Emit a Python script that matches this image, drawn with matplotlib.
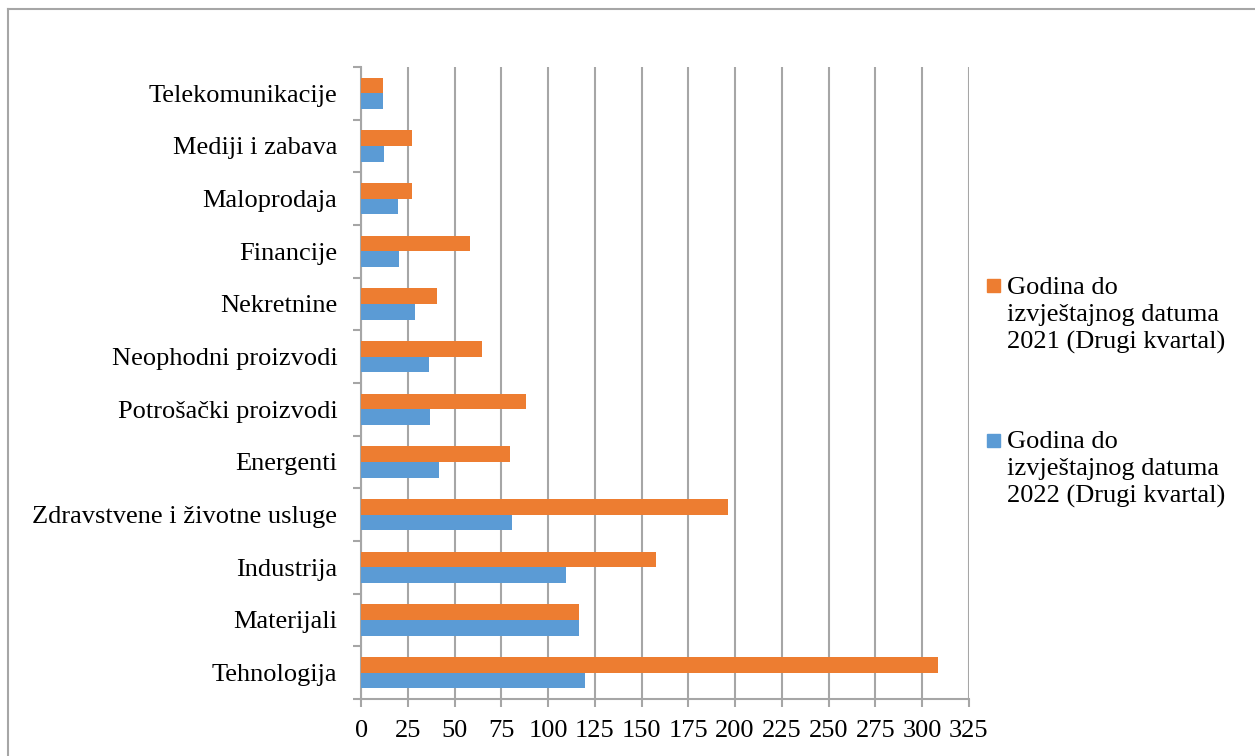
import numpy as np
import matplotlib.pyplot as plt
from matplotlib.patches import Rectangle
from matplotlib.lines import Line2D

categories = [
    "Tehnologija", "Materijali", "Industrija", "Zdravstvene i životne usluge",
    "Energenti", "Potrošački proizvodi", "Neophodni proizvodi", "Nekretnine",
    "Financije", "Maloprodaja", "Mediji i zabava", "Telekomunikacije",
]
ytd_2021 = [308.5, 116.5, 158, 196, 79.5, 88, 64.5, 40.5, 58.5, 27.5, 27.5, 11.5]
ytd_2022 = [120, 116.5, 109.5, 80.5, 41.5, 37, 36.5, 29, 20.5, 19.5, 12.5, 11.5]
label_2021 = "Godina do\nizvještajnog datuma\n2021 (Drugi kvartal)"
label_2022 = "Godina do\nizvještajnog datuma\n2022 (Drugi kvartal)"

ORANGE = "#ED7D31"
BLUE = "#5B9BD5"
GRID = "#a6a6a6"
FS = 19

plt.rcParams["font.family"] = ["Liberation Serif", "DejaVu Serif"]

fig = plt.figure(figsize=(12.55, 7.56), dpi=100)
ax = fig.add_axes([0.2877, 0.0754, 0.4842, 0.836])

y = np.arange(len(categories))
h = 0.295
ax.barh(y + h / 2, ytd_2021, height=h, color=ORANGE, zorder=3)
ax.barh(y - h / 2, ytd_2022, height=h, color=BLUE, zorder=3)

ax.set_xlim(0, 325)
ax.set_ylim(-0.5, len(categories) - 0.5)
ax.set_xticks(np.arange(0, 326, 25))
ax.set_yticks(y)
ax.set_yticklabels(categories)
ax.set_yticks(np.arange(-0.5, len(categories)), minor=True)

ax.grid(axis="x", color=GRID, linewidth=1.5, zorder=0)
for side in ("top", "right"):
    ax.spines[side].set_visible(False)
for side in ("left", "bottom"):
    ax.spines[side].set_color(GRID)
    ax.spines[side].set_linewidth(1.5)

ax.tick_params(axis="y", which="major", length=0, pad=17, labelsize=FS)
ax.tick_params(axis="y", which="minor", length=6, width=1.5, color=GRID)
ax.tick_params(axis="x", length=6, width=1.5, color=GRID, pad=9, labelsize=FS)

# legend drawn by hand so the marker sits beside the first line
for sq_y, txt_y, color, text in [(0.6138, 0.6336, ORANGE, label_2021),
                                 (0.4087, 0.4299, BLUE, label_2022)]:
    fig.patches.append(Rectangle((0.7865, sq_y), 0.0104, 0.0172,
                                 transform=fig.transFigure, color=color))
    fig.text(0.8025, txt_y, text, fontsize=FS, va="top", ha="left",
             linespacing=1.29)

# outer chart border (top and left edges visible)
fig.lines.append(Line2D([0.0065, 0.0065], [0.0, 0.988], transform=fig.transFigure,
                        color=GRID, linewidth=1.5))
fig.lines.append(Line2D([0.0065, 1.0], [0.988, 0.988], transform=fig.transFigure,
                        color=GRID, linewidth=1.5))

fig.savefig("out.png", dpi=100)
